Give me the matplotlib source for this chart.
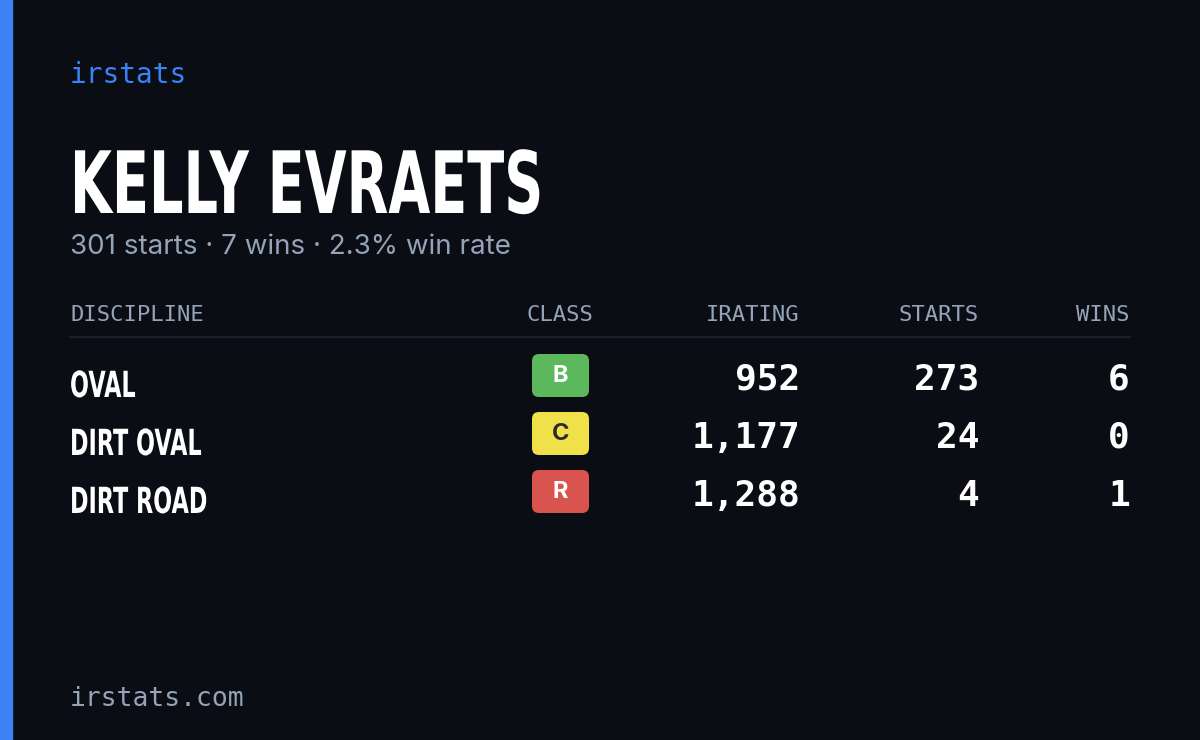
import matplotlib
matplotlib.use("Agg")
import matplotlib.pyplot as plt
from matplotlib.patches import FancyBboxPatch, Rectangle, PathPatch
from matplotlib.textpath import TextPath
from matplotlib.font_manager import FontProperties
from matplotlib.transforms import Affine2D

disciplines = ["OVAL", "DIRT OVAL", "DIRT ROAD"]
classes = ["B", "C", "R"]
iratings = [952, 1177, 1288]
starts = [273, 24, 4]
wins = [6, 0, 1]
headers = ["DISCIPLINE", "CLASS", "IRATING", "STARTS", "WINS"]
class_colors = {"B": "#5cb85c", "C": "#f0e14a", "R": "#d9534f"}
class_text = {"B": "white", "C": "#2a2a2a", "R": "white"}

W, H = 1200, 740
fig = plt.figure(figsize=(12, 7.4), dpi=100)
fig.patch.set_facecolor("#0a0d14")
ax = fig.add_axes([0, 0, 1, 1])
ax.set_xlim(0, W); ax.set_ylim(H, 0); ax.axis("off")
ax.add_patch(Rectangle((0, 0), 12, H, color="#3b82f6"))

mono = "DejaVu Sans Mono"
grey = "#94a3b8"
boldprop = FontProperties(family="DejaVu Sans", weight="bold")

def condensed(x, baseline, s, size, sx):
    tp = TextPath((0, 0), s, size=size, prop=boldprop)
    tr = Affine2D().scale(sx, -1).translate(x, baseline) + ax.transData
    ax.add_patch(PathPatch(tp, fc="white", ec="none", transform=tr))

ax.text(70, 75, "irstats", color="#3b82f6", family=mono, fontsize=20, va="center")
condensed(70, 213, "KELLY EVRAETS", 86, 0.63)
tot_s, tot_w = sum(starts), sum(wins)
ax.text(70, 247, f"{tot_s} starts · {tot_w} wins · {100*tot_w/tot_s:.1f}% win rate",
        color=grey, family="Inter", fontsize=20, va="center")

hx = [70, 593, 800, 979, 1130]
ha = ["left", "right", "right", "right", "right"]
for h, x, a in zip(headers, hx, ha):
    ax.text(x, 315, h, color=grey, family=mono, fontsize=16, ha=a, va="center")
ax.plot([70, 1130], [337, 337], color="#1e2430", lw=1.2)

for i, (d, c, ir, s, w) in enumerate(zip(disciplines, classes, iratings, starts, wins)):
    y = 376 + 58 * i
    condensed(70, y + 21, d, 36, 0.62)
    ax.add_patch(FancyBboxPatch((532, y - 22), 57, 43, boxstyle="round,pad=0,rounding_size=7",
                                fc=class_colors[c], ec="none"))
    ax.text(560.5, y, c, color=class_text[c], family="Inter", fontweight="bold",
            fontsize=17, ha="center", va="center")
    for val, x in zip([f"{ir:,}", str(s), str(w)], hx[2:]):
        ax.text(x, y + 4, val, color="white", family=mono, fontweight="bold",
                fontsize=26, ha="right", va="center")

ax.text(70, 699, "irstats.com", color=grey, family=mono, fontsize=19, va="center")
fig.savefig("out.png", dpi=100, facecolor=fig.get_facecolor())
